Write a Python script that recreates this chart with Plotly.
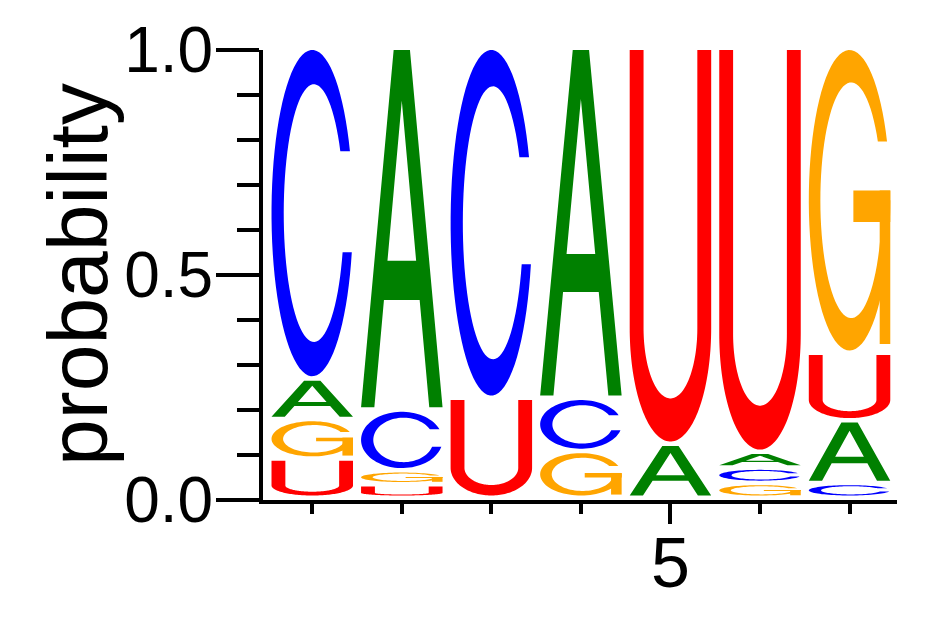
import numpy as np
import plotly.graph_objects as go

# ---- data (probabilities per position) ----
positions = [1, 2, 3, 4, 5, 6, 7]
prob_A = [0.090, 0.804, 0.000, 0.778, 0.120, 0.035, 0.139]
prob_C = [0.735, 0.135, 0.778, 0.118, 0.000, 0.034, 0.033]
prob_G = [0.088, 0.031, 0.000, 0.104, 0.000, 0.033, 0.678]
prob_U = [0.087, 0.030, 0.222, 0.000, 0.880, 0.898, 0.150]

x_tick_vals = [5]
x_tick_text = ["5"]
x_minor_vals = [1, 2, 3, 4, 6, 7]
y_tick_vals = [0.0, 0.5, 1.0]
y_tick_text = ["0.0", "0.5", "1.0"]
y_minor_vals = [0.1, 0.2, 0.3, 0.4, 0.6, 0.7, 0.8, 0.9]
y_title = "probability"

colors = {"A": "#008000", "C": "#0000FF", "G": "#FFA500", "U": "#FF0000"}
probs = {"A": prob_A, "C": prob_C, "G": prob_G, "U": prob_U}

HALF_W = 0.455   # half letter width in position units
PAD = 0.010      # vertical gap under each letter
X_RANGE = [0.45, 7.53]
Y_RANGE = [0, 1]


def ell(cx, cy, rx, ry, t0, t1, n=80):
    t = np.linspace(t0, t1, n)
    return list(zip(cx + rx * np.cos(t), cy + ry * np.sin(t)))


def glyph(letter):
    """Return list of polygon groups in unit box coordinates."""
    if letter == "A":
        outer = [(0, 0), (0.163, 0), (0.281, 0.30), (0.719, 0.30), (0.837, 0),
                 (1, 0), (0.6, 1), (0.4, 1)]
        hole = [(0.324, 0.41), (0.676, 0.41), (0.5, 0.858)]
        return [[outer, hole]]
    if letter == "C":
        ocx, ocy, orx, ory = 0.5, 0.5, 0.5, 0.5
        icx, icy, irx, iry = 0.52, 0.5, 0.37, 0.395
        vt, vb = 0.69, 0.38
        to1 = np.arcsin((vt - ocy) / ory)
        to2 = 2 * np.pi + np.arcsin((vb - ocy) / ory)
        ti1 = np.arcsin((vt - icy) / iry)
        ti2 = 2 * np.pi + np.arcsin((vb - icy) / iry)
        pts = ell(ocx, ocy, orx, ory, to1, to2) + ell(icx, icy, irx, iry, ti2, ti1)
        return [[pts]]
    if letter == "G":
        ocx, ocy, orx, ory = 0.5, 0.5, 0.5, 0.5
        icx, icy, irx, iry = 0.52, 0.5, 0.378, 0.392
        vt = 0.696
        to1 = np.arcsin((vt - ocy) / ory)
        ti1 = np.arcsin((vt - icy) / iry)
        ring = ell(ocx, ocy, orx, ory, to1, 2 * np.pi) + ell(icx, icy, irx, iry, 2 * np.pi, ti1)
        bar = [(0.547, 0.428), (1.0, 0.428), (1.0, 0.533), (0.547, 0.533)]
        spur = [(0.87, 0.022), (1.0, 0.022), (1.0, 0.533), (0.87, 0.533)]
        return [[ring], [bar], [spur]]
    if letter == "U":
        b, sw, t = 0.29, 0.17, 0.11
        pts = [(0, 1)] + ell(0.5, b, 0.5, b, np.pi, 2 * np.pi) + [(1, 1), (1 - sw, 1)]
        pts += ell(0.5, b, 0.5 - sw, b - t, 2 * np.pi, np.pi) + [(sw, 1)]
        return [[pts]]
    return []


def to_path(rings, x0, w, y0, h):
    parts = []
    for ring in rings:
        coords = [f"{x0 + u * w:.5f},{y0 + v * h:.5f}" for u, v in ring]
        parts.append("M" + " L".join(coords) + " Z")
    return " ".join(parts)


fig = go.Figure()
# invisible traces so both axis pairs exist
fig.add_trace(go.Scatter(x=positions, y=[0] * len(positions), mode="markers",
                         marker=dict(opacity=0), hoverinfo="skip", showlegend=False))
fig.add_trace(go.Scatter(x=positions, y=[0] * len(positions), mode="markers",
                         xaxis="x2", yaxis="y2",
                         marker=dict(opacity=0), hoverinfo="skip", showlegend=False))

shapes = []
for i, p in enumerate(positions):
    col = [(probs[L][i], L) for L in ["A", "C", "G", "U"] if probs[L][i] > 0]
    col.sort(key=lambda t: t[0])
    bottom = 0.0
    for val, L in col:
        y0 = bottom + PAD
        h = bottom + val - y0
        x0 = p - HALF_W
        for rings in glyph(L):
            shapes.append(dict(type="path", xref="x", yref="y",
                               path=to_path(rings, x0, 2 * HALF_W, y0, h),
                               fillcolor=colors[L], line=dict(width=0),
                               fillrule="evenodd", layer="above"))
        bottom += val

FONT = "Liberation Sans, Arial, Helvetica, sans-serif"
CLEAR = "rgba(0,0,0,0)"

fig.update_layout(
    width=926, height=601,
    margin=dict(l=255, r=37, t=42, b=109),
    paper_bgcolor="white", plot_bgcolor="white",
    shapes=shapes,
    font=dict(family=FONT, color="black"),
    # axes that draw lines and ticks
    xaxis=dict(range=X_RANGE, showline=True, linewidth=4, linecolor="black",
               automargin=False, showticklabels=False,
               showgrid=False, zeroline=False, ticks="outside",
               tickmode="array", tickvals=x_tick_vals,
               ticklen=20, tickwidth=4, tickcolor="black",
               minor=dict(tickmode="array", tickvals=x_minor_vals, ticks="outside",
                          ticklen=10, tickwidth=4, tickcolor="black", showgrid=False)),
    yaxis=dict(range=Y_RANGE, showline=True, linewidth=4, linecolor="black",
               automargin=False, showticklabels=False,
               showgrid=False, zeroline=False, ticks="outside",
               tickmode="array", tickvals=y_tick_vals,
               ticklen=43, tickwidth=4, tickcolor="black",
               minor=dict(tickmode="array", tickvals=y_minor_vals, ticks="outside",
                          ticklen=22, tickwidth=4, tickcolor="black", showgrid=False)),
    # overlay axes that carry the tick labels
    xaxis2=dict(range=X_RANGE, overlaying="x", anchor="y2", side="bottom",
                automargin=False, showline=False, showgrid=False, zeroline=False,
                ticks="outside", ticklen=2, tickcolor=CLEAR,
                tickmode="array", tickvals=x_tick_vals, ticktext=x_tick_text,
                tickfont=dict(size=70, family=FONT, color="black")),
    yaxis2=dict(range=Y_RANGE, overlaying="y", anchor="x2", side="left",
                automargin=False, showline=False, showgrid=False, zeroline=False,
                ticks="outside", ticklen=36, tickcolor=CLEAR,
                tickmode="array", tickvals=y_tick_vals, ticktext=y_tick_text,
                tickfont=dict(size=64, family=FONT, color="black")),
    annotations=[dict(text=y_title, textangle=-90, showarrow=False,
                      xref="paper", yref="paper", x=0, y=0.5,
                      xanchor="center", yanchor="middle", xshift=-185,
                      font=dict(size=84, family=FONT, color="black"))],
)

fig.write_html("out.html")
